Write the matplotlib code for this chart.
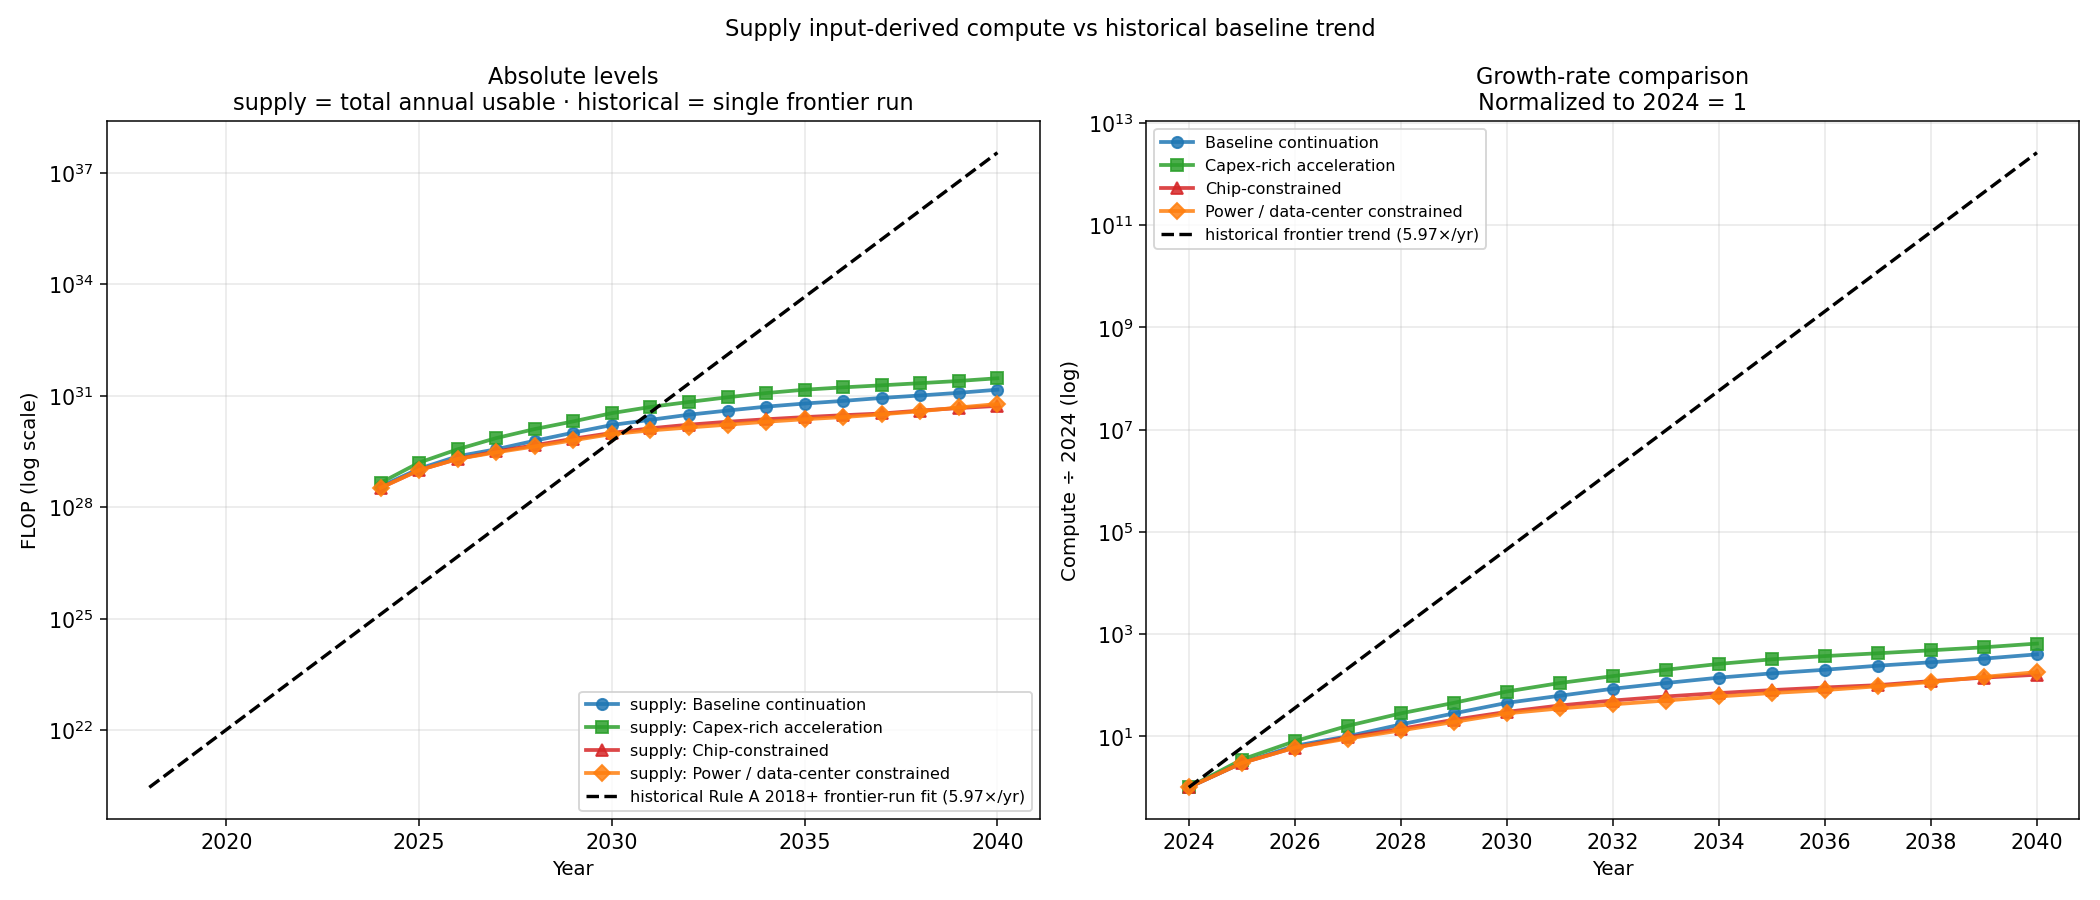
import numpy as np
import matplotlib
matplotlib.use("Agg")
import matplotlib.pyplot as plt

years = np.arange(2024, 2041)
names = ["Baseline continuation", "Capex-rich acceleration", "Chip-constrained", "Power / data-center constrained"]
colors = ["#1f77b4", "#2ca02c", "#d62728", "#ff7f0e"]
markers = ["o", "s", "^", "D"]
base_2024 = [3.6e28, 4.5e28, 3.3e28, 3.3e28]
norm = [
    [1, 3.0, 6.5, 10, 17, 28, 45, 62, 85, 110, 140, 170, 200, 240, 280, 330, 400],
    [1, 3.5, 8, 16, 28, 45, 75, 110, 150, 200, 260, 320, 370, 420, 480, 550, 650],
    [1, 3.0, 6, 9.5, 14, 21, 30, 40, 50, 60, 70, 80, 90, 100, 120, 140, 160],
    [1, 3.0, 6, 9, 13, 19, 28, 35, 42, 50, 60, 70, 80, 95, 115, 145, 180],
]
hist_rate = 5.97
hist_2018 = 2.9e20
hist_years = np.arange(2018, 2041)

plt.rcParams["font.size"] = 10.5
fig, (ax1, ax2) = plt.subplots(1, 2, figsize=(15.56, 6.67), dpi=135)
fig.suptitle("Supply input-derived compute vs historical baseline trend", fontsize=12)

for n, c, m, b, v in zip(names, colors, markers, base_2024, norm):
    v = np.array(v, dtype=float)
    ax1.plot(years, b * v, color=c, marker=m, lw=2, ms=6, alpha=0.85, label="supply: " + n)
    ax2.plot(years, v, color=c, marker=m, lw=2, ms=6, alpha=0.85, label=n)

ax1.plot(hist_years, hist_2018 * hist_rate ** (hist_years - 2018), "k--", lw=1.8,
         label="historical Rule A 2018+ frontier-run fit (5.97×/yr)")
ax2.plot(years, hist_rate ** (years - 2024), "k--", lw=1.8, label="historical frontier trend (5.97×/yr)")

for ax in (ax1, ax2):
    ax.set_yscale("log")
    ax.grid(True, alpha=0.3)
    ax.set_xlabel("Year")
    ax.tick_params(labelsize=11)
ax1.set_ylabel("FLOP (log scale)")
ax1.set_title("Absolute levels\nsupply = total annual usable · historical = single frontier run", fontsize=12)
ax1.legend(loc="lower right", fontsize=8.5)
ax2.set_xticks(np.arange(2024, 2041, 2))
ax2.set_ylabel("Compute ÷ 2024 (log)")
ax2.set_title("Growth-rate comparison\nNormalized to 2024 = 1", fontsize=12)
ax2.legend(loc="upper left", fontsize=8.5)

fig.tight_layout()
fig.savefig("out.png")
